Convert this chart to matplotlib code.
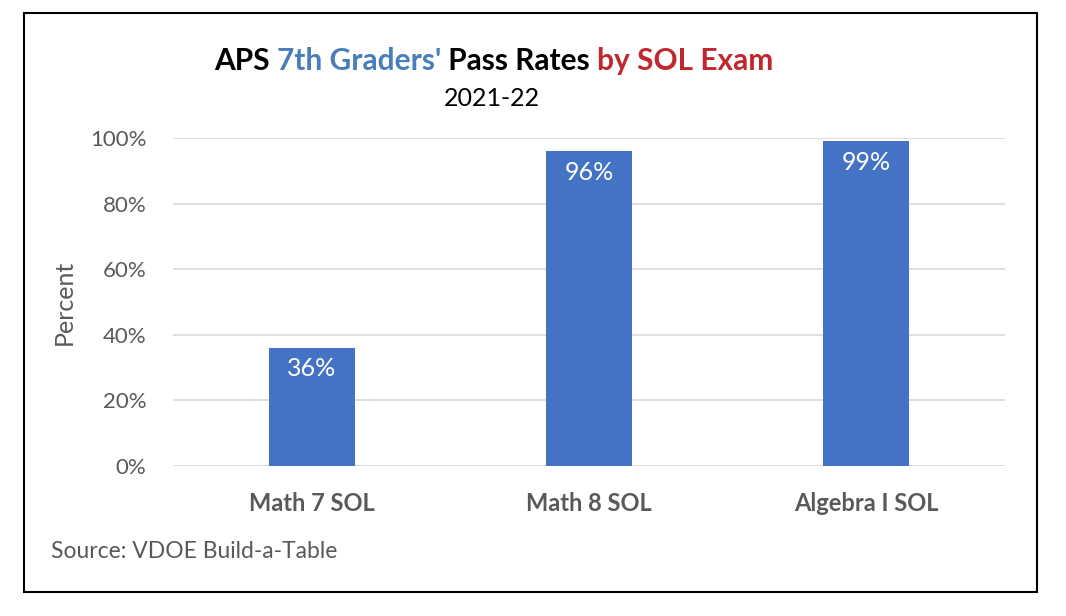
import matplotlib
matplotlib.use("Agg")
import matplotlib.pyplot as plt
from matplotlib.patches import Rectangle
from matplotlib.ticker import FuncFormatter

categories = ["Math 7 SOL", "Math 8 SOL", "Algebra I SOL"]
pass_rates = [36, 96, 99]
yticks = [0, 20, 40, 60, 80, 100]
title_parts = [("APS ", "#000000"), ("7th Graders'", "#4A7EBB"), (" Pass Rates ", "#000000"), ("by SOL Exam", "#C0282D")]
subtitle = "2021-22"
ylabel = "Percent"
source = "Source: VDOE Build-a-Table"

FONT = ["Lato", "DejaVu Sans"]
GRAY = "#595959"
W, H = 1066, 616
fig = plt.figure(figsize=(W / 100, H / 100), dpi=100)
fig.patch.set_facecolor("white")

# outer border
fig.patches.append(Rectangle((24 / W, 1 - 592 / H), (1037 - 24) / W, (592 - 13) / H,
                             transform=fig.transFigure, fill=False, edgecolor="#000000", linewidth=1.5))

ax = fig.add_axes([173 / W, 1 - 466 / H, (1005 - 173) / W, (466 - 138) / H])
x = list(range(len(categories)))
bars = ax.bar(x, pass_rates, width=0.31, color="#4472C4", zorder=3)
ax.set_xlim(-0.5, len(categories) - 0.5)
ax.set_ylim(0, 100)
ax.set_yticks(yticks)
ax.yaxis.set_major_formatter(FuncFormatter(lambda v, p: f"{v:.0f}%"))
ax.grid(axis="y", color="#D9D9D9", linewidth=1.2, zorder=0)
for s in ax.spines.values():
    s.set_visible(False)
ax.tick_params(axis="both", length=0)
ax.tick_params(axis="y", pad=19, labelsize=16, labelcolor=GRAY)
ax.set_xticks(x)
ax.set_xticklabels(categories, fontsize=17, fontweight="bold", color=GRAY, family=FONT)
ax.tick_params(axis="x", pad=19)
for lab in ax.get_yticklabels():
    lab.set_family(FONT)
ax.set_ylabel(ylabel, fontsize=18, color=GRAY, family=FONT)
ax.yaxis.set_label_coords((76 - 173) / (1005 - 173), 0.5)

for b, v in zip(bars, pass_rates):
    ax.annotate(f"{v}%", (b.get_x() + b.get_width() / 2, v), xytext=(0, -21),
                textcoords="offset pixels", ha="center", va="center",
                color="white", fontsize=18, family=FONT)

# multi-colored title
fig.canvas.draw()
renderer = fig.canvas.get_renderer()
texts = []
for t, c in title_parts:
    texts.append(fig.text(0, 1 - 61 / H, t, color=c, fontsize=21.5, fontweight="bold",
                          family=FONT, va="center", ha="left"))
widths = [tx.get_window_extent(renderer).width for tx in texts]
total = sum(widths)
xpos = 494 - total / 2
for tx, w in zip(texts, widths):
    tx.set_x(xpos / W)
    xpos += w

fig.text(492 / W, 1 - 98 / H, subtitle, fontsize=18, color="#000000", family=FONT, ha="center", va="center")
fig.text(51 / W, 1 - 551 / H, source, fontsize=16.5, color=GRAY, family=FONT, ha="left", va="center")

fig.savefig("out.png", dpi=100, facecolor="white")
